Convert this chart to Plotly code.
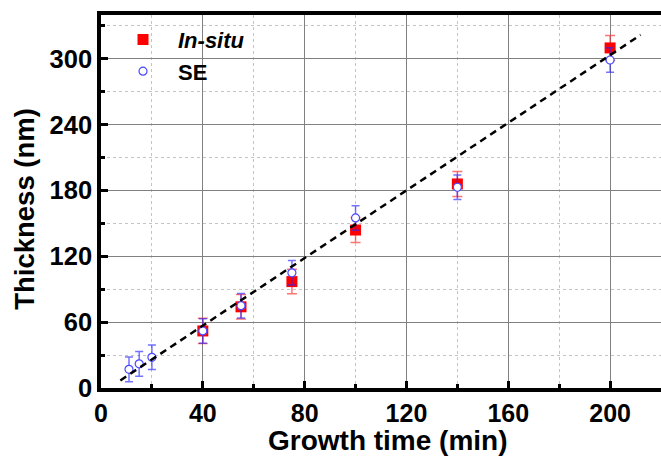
import plotly.graph_objects as go

# In-situ data
insitu_time = [40, 55, 75, 100, 140, 200]
insitu_thick = [52, 74, 97, 144, 186, 310]
insitu_err = [11.5, 11.2, 11.2, 11.4, 11.4, 11.4]

# SE data
se_time = [11, 15, 20, 40, 55, 75, 100, 140, 200]
se_thick = [17, 22, 28, 52, 75, 105, 155, 183, 299]
se_err = [11.2, 11.2, 11.2, 11.2, 11.2, 11.2, 11.2, 11.2, 11.2]

# linear fit line
fit_x = [7.6, 212]
fit_slope = 1.541
fit_intercept = -4.8
fit_y = [fit_slope * v + fit_intercept for v in fit_x]

x_ticks = [0, 40, 80, 120, 160, 200]
y_ticks = [0, 60, 120, 180, 240, 300]

FONT = "Arial, Liberation Sans, sans-serif"

fig = go.Figure()

fig.add_trace(go.Scatter(
    x=insitu_time, y=insitu_thick, mode="markers", name="<b><i>In-situ</i></b>",
    marker=dict(symbol="square", size=11, color="#ff0000", line=dict(width=0)),
    error_y=dict(type="data", array=insitu_err, visible=True,
                 color="rgba(255,40,40,0.65)", thickness=1.5, width=5),
))
fig.add_trace(go.Scatter(
    x=se_time, y=se_thick, mode="markers", name="<b>SE</b>",
    marker=dict(symbol="circle", size=8, color="white",
                line=dict(width=1.2, color="#4848ff")),
    error_y=dict(type="data", array=se_err, visible=True,
                 color="rgba(40,40,255,0.65)", thickness=1.5, width=4),
))
fig.add_trace(go.Scatter(
    x=fit_x, y=fit_y, mode="lines", showlegend=False,
    line=dict(color="black", width=2.5, dash="7px,5px"),
))

fig.update_layout(
    width=661, height=457,
    margin=dict(l=101, r=0, t=15, b=69),
    paper_bgcolor="white", plot_bgcolor="white",
    font=dict(family=FONT, color="black"),
    showlegend=True,
    legend=dict(x=0.0125, y=0.99, xanchor="left", yanchor="top",
                bgcolor="rgba(0,0,0,0)", font=dict(size=22, family=FONT),
                itemwidth=60, tracegroupgap=0),
    annotations=[
        dict(text="<b>Growth time (min)</b>", xref="paper", yref="paper",
             x=0.5125, y=-0.141, xanchor="center", yanchor="middle",
             showarrow=False, font=dict(size=28, family=FONT)),
        dict(text="<b>Thickness (nm)</b>", xref="paper", yref="paper",
             x=-0.136, y=0.48, xanchor="center", yanchor="middle",
             textangle=-90, showarrow=False, font=dict(size=27.5, family=FONT)),
    ],
)

fig.update_xaxes(
    range=[0, 220], tickvals=x_ticks, ticktext=[str(v) for v in x_ticks],
    showline=True, linewidth=3.5, linecolor="black", mirror=True,
    ticks="inside", ticklen=7, tickwidth=3, tickcolor="black",
    tickfont=dict(size=25, family=FONT, weight="bold"),
    showgrid=True, gridcolor="#808080", gridwidth=1.2,
    zeroline=False,
    minor=dict(dtick=20, tick0=0, ticks="inside", ticklen=4, tickwidth=2.5,
               tickcolor="black", showgrid=True, gridcolor="#c4c4c4",
               gridwidth=1, griddash="3px,3px"),
)
fig.update_yaxes(
    range=[0, 340], tickvals=y_ticks, ticktext=[str(v) for v in y_ticks],
    showline=True, linewidth=3.5, linecolor="black", mirror=False,
    ticks="inside", ticklen=7, tickwidth=3, tickcolor="black",
    tickfont=dict(size=25.5, family=FONT, weight="bold"),
    showgrid=True, gridcolor="#808080", gridwidth=1.2,
    zeroline=False,
    minor=dict(dtick=30, tick0=0, ticks="inside", ticklen=4, tickwidth=2.5,
               tickcolor="black", showgrid=True, gridcolor="#c4c4c4",
               gridwidth=1, griddash="3px,3px"),
)

fig.write_html("out.html")
